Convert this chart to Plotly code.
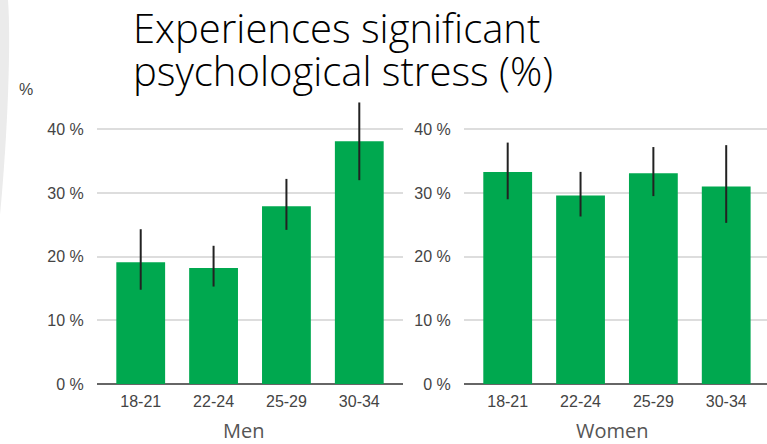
import plotly.graph_objects as go

# ---- data ----
age_groups = ["18-21", "22-24", "25-29", "30-34"]
men_values = [19.1, 18.2, 27.9, 38.1]
men_upper = [24.3, 21.7, 32.2, 44.2]
men_lower = [14.8, 15.3, 24.2, 32.0]
women_values = [33.3, 29.6, 33.1, 31.0]
women_upper = [37.9, 33.3, 37.2, 37.5]
women_lower = [29.0, 26.3, 29.5, 25.3]
y_ticks = [0, 10, 20, 30, 40]
y_tick_labels = ["0 %", "10 %", "20 %", "30 %", "40 %"]
panel_titles = ["Men", "Women"]
title_lines = ["Experiences significant", "psychological stress (%)"]
unit_label = "%"

W, H = 767, 444
ML, MR, MT, MB = 97, 0, 91, 60
PW = W - ML - MR
PH = H - MT - MB


def px(x):
    return (x - ML) / PW


def py(y):
    return (H - MB - y) / PH


GREEN = "#00A84F"
TICKFONT = dict(family="Liberation Sans, Arial, sans-serif", size=16, color="#444444")

fig = go.Figure()

for i, (vals, up, lo) in enumerate([(men_values, men_upper, men_lower),
                                     (women_values, women_upper, women_lower)]):
    fig.add_trace(go.Bar(
        x=age_groups, y=vals,
        width=0.67,
        marker=dict(color=GREEN, line=dict(width=0)),
        error_y=dict(type="data", symmetric=False,
                     array=[u - v for u, v in zip(up, vals)],
                     arrayminus=[v - l for v, l in zip(vals, lo)],
                     color="#222222", thickness=2, width=0),
        xaxis="x" if i == 0 else "x2",
        yaxis="y" if i == 0 else "y2",
        showlegend=False,
        hoverinfo="skip",
    ))

yax = dict(range=[0, 46], tickmode="array", tickvals=y_ticks, ticktext=y_tick_labels,
           showgrid=True, gridcolor="#dddddd", gridwidth=1.5,
           zeroline=True, zerolinecolor="#666666", zerolinewidth=2,
           showline=False, ticks="outside", ticklen=9, tickcolor="rgba(0,0,0,0)",
           tickfont=TICKFONT, fixedrange=True, automargin=False)
xax = dict(showgrid=False, zeroline=False, showline=False,
           ticks="outside", ticklen=3, tickcolor="rgba(0,0,0,0)",
           tickfont=TICKFONT, type="category", automargin=False, fixedrange=True)

left_end = px(403)
right_start = px(464)

fig.update_layout(
    width=W, height=H,
    margin=dict(l=ML, r=MR, t=MT, b=MB, pad=0),
    paper_bgcolor="white", plot_bgcolor="white",
    xaxis=dict(xax, domain=[0, left_end], anchor="y", range=[-0.6, 3.6]),
    yaxis=dict(yax, anchor="x", domain=[0, 1]),
    xaxis2=dict(xax, domain=[right_start, 1], anchor="y2", range=[-0.6, 3.56]),
    yaxis2=dict(yax, anchor="x2", domain=[0, 1]),
)

TITLEFONT = dict(family="Open Sans, sans-serif", size=40, color="#000000", weight=300)
AXTITLEFONT = dict(family="Open Sans, sans-serif", size=20, color="#555555")

annotations = [
    dict(text=title_lines[0], xref="paper", yref="paper",
         x=px(131), y=py(27), xanchor="left", yanchor="middle", align="left",
         showarrow=False, font=TITLEFONT),
    dict(text=title_lines[1], xref="paper", yref="paper",
         x=px(131), y=py(70.5), xanchor="left", yanchor="middle", align="left",
         showarrow=False, font=TITLEFONT),
    dict(text=unit_label, xref="paper", yref="paper", x=px(25.5), y=py(89.5),
         xanchor="center", yanchor="middle", showarrow=False,
         font=TICKFONT),
    dict(text=panel_titles[0], xref="paper", yref="paper", x=px(243.5), y=py(430),
         xanchor="center", yanchor="middle", showarrow=False, font=AXTITLEFONT),
    dict(text=panel_titles[1], xref="paper", yref="paper", x=px(612.5), y=py(430),
         xanchor="center", yanchor="middle", showarrow=False, font=AXTITLEFONT),
]
fig.update_layout(annotations=annotations)

# light grey decorative curve at top-left corner
path = (f"M {px(0)},{py(0)} L {px(8)},{py(0)} "
        f"C {px(11)},{py(40)} {px(8)},{py(130)} {px(0)},{py(215)} Z")
fig.add_shape(type="path", path=path, xref="paper", yref="paper",
              fillcolor="#ebebeb", line=dict(width=0), layer="below")

fig.write_html("out.html", config={"displayModeBar": False},
               post_script="document.body.style.margin='0px';")
